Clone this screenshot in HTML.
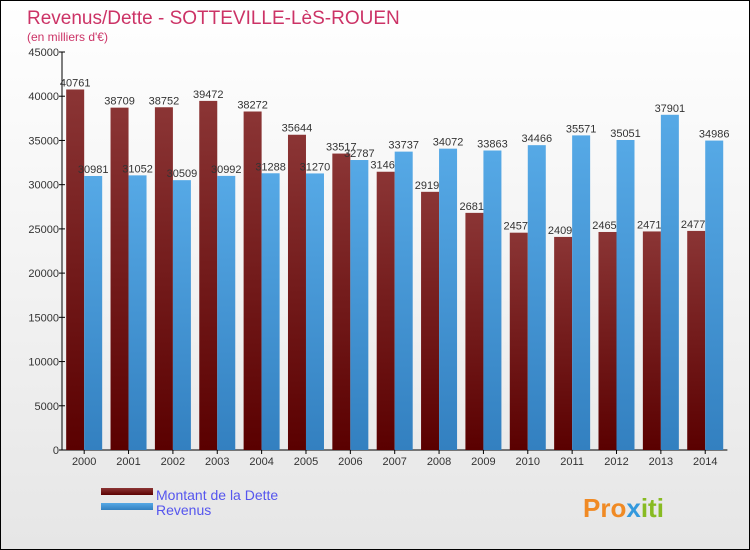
<!DOCTYPE html>
<html><head><meta charset="utf-8"><style>
body{margin:0}
#c{position:relative;width:750px;height:550px;box-sizing:border-box;border:1px solid #000;background:linear-gradient(#fff,#e6e6e6);font-family:"Liberation Sans",sans-serif;overflow:hidden}
</style></head><body>
<div id="c">
<svg width="748" height="548" id="s" style="position:absolute;left:0;top:0">
<defs>
<linearGradient id="gd" x1="0" x2="0" y1="0" y2="1"><stop offset="0" stop-color="#8b3535"/><stop offset="1" stop-color="#5a0000"/></linearGradient>
<linearGradient id="gb" x1="0" x2="0" y1="0" y2="1"><stop offset="0" stop-color="#56a9e6"/><stop offset="1" stop-color="#3380c0"/></linearGradient>
</defs>
<text x="26" y="23" font-size="19" fill="#cc3366">Revenus/Dette - SOTTEVILLE-LèS-ROUEN</text>
<text x="26" y="40" font-size="12" fill="#cc3366">(en milliers d'€)</text>
<g id="g"></g>
<rect x="100" y="487" width="52" height="7" fill="url(#gd)"/>
<rect x="100" y="502" width="52" height="7" fill="url(#gb)"/>
<text x="155" y="499" font-size="14" fill="#5555ee">Montant de la Dette</text>
<text x="155" y="514" font-size="14" fill="#5555ee">Revenus</text>
<text x="582" y="516" font-size="26" font-weight="bold" fill="#f08a24">Pro<tspan fill="#3399dd">x</tspan><tspan fill="#88bb22">iti</tspan></text>
</svg>
</div>
<script>
const years=["2000","2001","2002","2003","2004","2005","2006","2007","2008","2009","2010","2011","2012","2013","2014"];
const dette=[40761,38709,38752,39472,38272,35644,33517,31461,29191,26811,24571,24091,24651,24711,24771];
const revenus=[30981,31052,30509,30992,31288,31270,32787,33737,34072,33863,34466,35571,35051,37901,34986];
const yTicks=[0,5000,10000,15000,20000,25000,30000,35000,40000,45000];
const NS="http://www.w3.org/2000/svg";
const g=document.getElementById('g');
const y0=449,x0=61,step=44.36;
const Y=v=>y0-v*(398/45000);
const X=i=>x0+step*(i+0.5);
function mk(t,a,p){const e=document.createElementNS(NS,t);for(const k in a)e.setAttribute(k,a[k]);(p||g).appendChild(e);return e;}
let ax=mk('line',{x1:x0,y1:Y(45000),x2:x0,y2:y0,stroke:'#000'});


let xa=mk('line',{x1:x0,y1:y0,x2:x0+step*15,y2:y0,stroke:'#000'});


yTicks.forEach(v=>{
  let t=mk('line',{x1:x0-3,x2:x0+3,y1:Y(v),y2:Y(v),stroke:'#000'});
  
  
  let l=mk('text',{x:x0-3,y:Y(v)+4,'font-size':11,'text-anchor':'end',fill:'#333'});
  l.textContent=v;
  
  
});
years.forEach((yr,i)=>{
  const c=X(i);
  let b=mk('rect',{x:c-18,y:Y(dette[i]),width:18,height:y0-Y(dette[i]),fill:'url(#gd)'});
  
  
  let l=mk('text',{x:c-9,y:Y(dette[i])-3,'font-size':11,'text-anchor':'middle',fill:'#333'});
  l.textContent=dette[i];
  
  
});
years.forEach((yr,i)=>{
  const c=X(i);
  let b=mk('rect',{x:c,y:Y(revenus[i]),width:18,height:y0-Y(revenus[i]),fill:'url(#gb)'});
  
  
  let l=mk('text',{x:c+9,y:Y(revenus[i])-3,'font-size':11,'text-anchor':'middle',fill:'#333'});
  l.textContent=revenus[i];
  
  
  let t=mk('line',{x1:c,x2:c,y1:y0,y2:y0+4,stroke:'#000'});
  
  
  let xl=mk('text',{x:c,y:y0+15,'font-size':11,'text-anchor':'middle',fill:'#333'});
  xl.textContent=yr;
  
  
});
</script>
</body></html>
